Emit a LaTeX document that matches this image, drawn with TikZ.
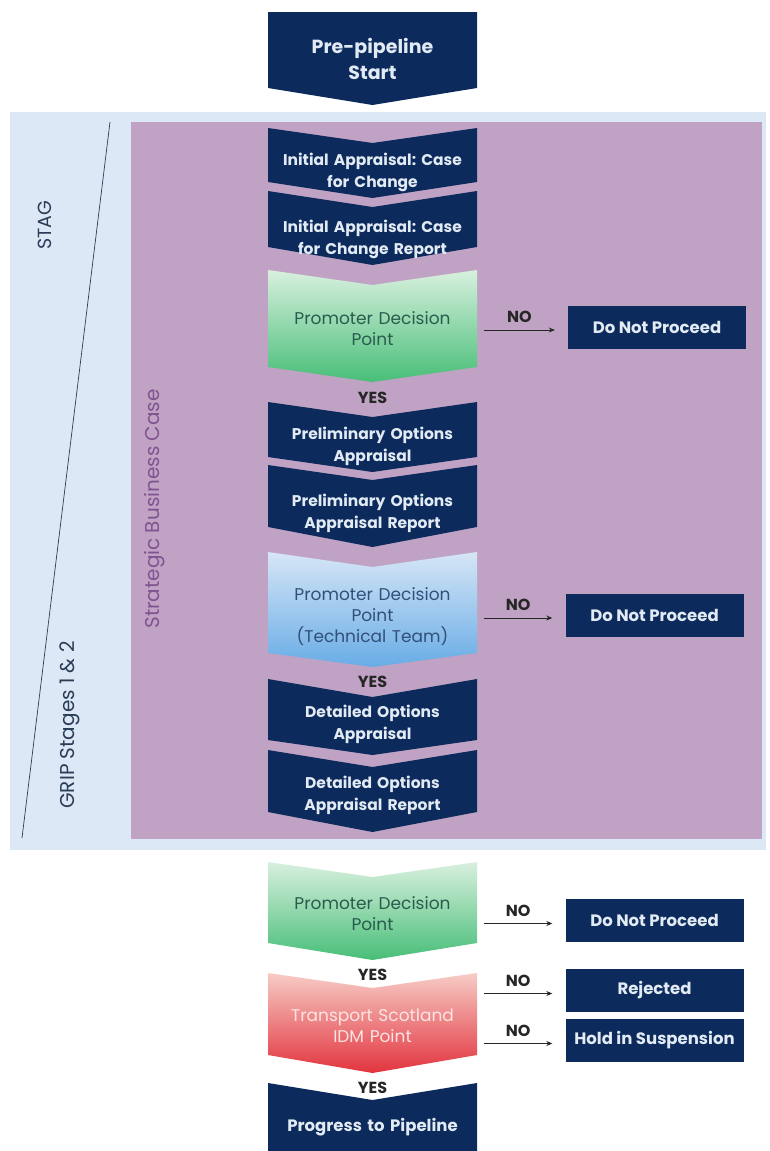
\documentclass[tikz,border=0pt]{standalone}
\usepackage{fontspec}
\setmainfont{Poppins}
\usetikzlibrary{arrows.meta,positioning}
\frenchspacing

\definecolor{navy}{RGB}{12,43,92}
\definecolor{paletxt}{RGB}{226,234,244}
\definecolor{bandblue}{RGB}{220,232,245}
\definecolor{sbcpurple}{RGB}{192,163,196}
\definecolor{sbctxt}{RGB}{128,84,144}
\definecolor{sidetxt}{RGB}{42,60,86}
\definecolor{grntop}{RGB}{216,240,222}
\definecolor{grnbot}{RGB}{72,190,120}
\definecolor{grntxt}{RGB}{40,92,78}
\definecolor{blutop}{RGB}{214,230,246}
\definecolor{blubot}{RGB}{104,172,230}
\definecolor{blutxt}{RGB}{50,80,120}
\definecolor{redtop}{RGB}{247,204,198}
\definecolor{redbot}{RGB}{226,52,62}
\definecolor{redtxt}{RGB}{252,228,228}

\tikzset{
  navychev/.style={fill=navy},
  greenchev/.style={top color=grntop, bottom color=grnbot},
  bluechev/.style={top color=blutop, bottom color=blubot},
  redchev/.style={top color=redtop, bottom color=redbot}
}
\tikzset{
  chevtext/.style={text=paletxt, font=\bfseries\fontsize{15.5}{22}\selectfont,
    align=center, text width=209pt, inner sep=0pt},
  dectext/.style={chevtext, font=\fontsize{17}{21}\selectfont},
  outbox/.style={fill=navy, text=paletxt, font=\bfseries\fontsize{16.5}{18}\selectfont,
    minimum width=178pt, minimum height=43pt, inner sep=0pt},
  yesno/.style={font=\bfseries\fontsize{16}{18}\selectfont, text=black!85, inner sep=0pt},
  noarrow/.style={-{Stealth[length=6pt,width=5pt]}, line width=0.8pt, black!85},
  sidelabel/.style={rotate=90, text=sidetxt, font=\fontsize{20}{22}\selectfont}
}
% chevron: [style]{top of sides}{notch}{bottom of sides}{tip}
\newcommand{\chev}[5][navychev]{%
  \path[#1] (268,#2) -- (372.5,#3) -- (477,#2) -- (477,#4) -- (372.5,#5) -- (268,#4) -- cycle;}

\begin{document}
\begin{tikzpicture}[x=1pt,y=-1pt]
  \useasboundingbox (0,0) rectangle (769,1151);
  % stage bands
  \fill[bandblue] (10,112) rectangle (766,850);
  \fill[sbcpurple] (131,122) rectangle (762,839);
  \draw[sidetxt, line width=0.7pt] (110,122) -- (22,838);
  \node[sidelabel, font=\fontsize{19}{21}\selectfont] (stag) at (45,225) {STAG};
  \node[sidelabel] (grip) at (70,725) {GRIP Stages 1 \& 2};
  \node[sidelabel, text=sbctxt] (sbc) at (155,509) {Strategic Business Case};

  % chevrons
  \chev{12}{12}{88}{105}
  \chev{128}{143}{182}{198}
  \chev{191}{207}{247}{265}
  \chev[greenchev]{270}{285}{367}{382}
  \chev{402}{417}{457}{472}
  \chev{465}{480}{527}{547}
  \chev[bluechev]{552}{567}{653}{667}
  \chev{679}{697}{740}{755}
  \chev{750}{767}{812}{832}
  \chev[greenchev]{862}{877}{943}{960}
  \chev[redchev]{973}{988}{1055}{1073}
  \path[navychev] (268,1083) -- (372.5,1100) -- (477,1083) -- (477,1151) -- (268,1151) -- cycle;

  \node[chevtext, font=\bfseries\fontsize{19}{26}\selectfont] (pre) at (372.5,59) {Pre-pipeline\\Start};
  \node[chevtext] (ia1) at (372.5,172) {Initial Appraisal: Case\\for Change};
  \node[chevtext] (ia2) at (372.5,239) {Initial Appraisal: Case\\for Change Report};
  \node[dectext, text=grntxt] (dec1) at (372.5,328.5) {Promoter Decision\\Point};
  \node[yesno] (yes1) at (372.5,398) {YES};
  \node[chevtext] (poa1) at (372.5,446) {Preliminary Options\\Appraisal};
  \node[chevtext] (poa2) at (372.5,513) {Preliminary Options\\Appraisal Report};
  \node[dectext, text=blutxt] (dec2) at (372.5,616.5) {Promoter Decision\\Point\\(Technical Team)};
  \node[yesno] (yes2) at (372.5,682) {YES};
  \node[chevtext] (doa1) at (372.5,724) {Detailed Options\\Appraisal};
  \node[chevtext] (doa2) at (372.5,795) {Detailed Options\\Appraisal Report};
  \node[dectext, text=grntxt] (dec3) at (372.5,914) {Promoter Decision\\Point};
  \node[yesno] (yes3) at (372.5,975) {YES};
  \node[dectext, text=redtxt] (idm) at (372.5,1026) {Transport Scotland\\IDM Point};
  \node[yesno] (yes4) at (372.5,1088) {YES};
  \node[chevtext, font=\bfseries\fontsize{16.5}{21}\selectfont] (prog) at (372.5,1127) {Progress to Pipeline};

  % outcome boxes
  \node[outbox] (dnp1) at (657,327) {Do Not Proceed};
  \node[outbox] (dnp2) at (654.5,615) {Do Not Proceed};
  \node[outbox] (dnp3) at (654.5,920.5) {Do Not Proceed};
  \node[outbox] (rej) at (654.5,990.5) {Rejected};
  \node[outbox] (hold) at (654.5,1040.5) {Hold in Suspension};

  \draw[noarrow] ([xshift=7pt,yshift=-3pt]dec1.east |- dnp1.west) -- ([xshift=-13pt,yshift=-3pt]dnp1.west)
    node[midway, above=7pt, yesno] {NO};
  \draw[noarrow] ([xshift=7pt,yshift=-3pt]dec2.east |- dnp2.west) -- ([xshift=-13pt,yshift=-3pt]dnp2.west)
    node[midway, above=7pt, yesno] {NO};
  \draw[noarrow] ([xshift=7pt,yshift=-3pt]dec3.east |- dnp3.west) -- ([xshift=-13pt,yshift=-3pt]dnp3.west)
    node[midway, above=7pt, yesno] {NO};
  \draw[noarrow] ([xshift=7pt,yshift=-3pt]idm.east |- rej.west) -- ([xshift=-13pt,yshift=-3pt]rej.west)
    node[midway, above=7pt, yesno] {NO};
  \draw[noarrow] ([xshift=7pt,yshift=-3pt]idm.east |- hold.west) -- ([xshift=-13pt,yshift=-3pt]hold.west)
    node[midway, above=7pt, yesno] {NO};
\end{tikzpicture}
\end{document}
